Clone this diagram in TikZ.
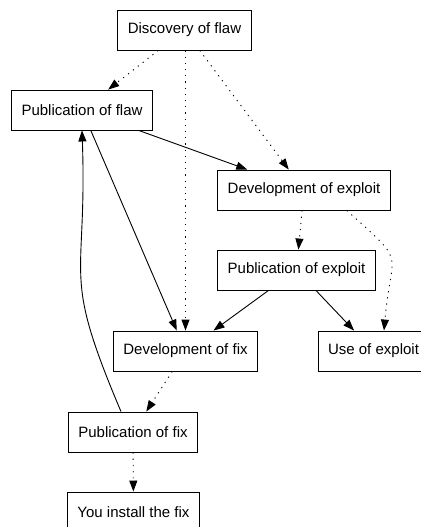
\documentclass[tikz,border=0pt]{standalone}
\usepackage{fontspec}
\setmainfont{Liberation Sans}
\usetikzlibrary{arrows.meta}
\tikzset{stage/.style={draw,line width=0.9pt,inner xsep=10pt,minimum height=40pt,font=\fontsize{15}{18}\selectfont},
  flow/.style={line width=0.9pt,-{Triangle[length=11pt,width=8pt]}},
  hint/.style={flow,dash pattern=on 1.2pt off 5pt}}

\begin{document}
\begin{tikzpicture}[x=1pt,y=1pt]
  \useasboundingbox (0,0) rectangle (420,-527);
  \node[stage] (disc) at (184.5,-30) {Discovery of flaw};
  \node[stage] (pflaw) at (82,-110) {Publication of flaw};
  \node[stage] (devexp) at (304,-190) {Development of exploit};
  \node[stage] (pubexp) at (296.5,-270) {Publication of exploit};
  \node[stage] (devfix) at (185.5,-351) {Development of fix};
  \node[stage] (useexp) at (373.5,-351) {Use of exploit};
  \node[stage] (pubfix) at (133,-432) {Publication of fix};
  \node[stage] (install) at (133.5,-512) {You install the fix};
 \draw [hint] (disc) -- (pflaw);
 \draw [hint] (disc.south -| devfix.north) -- (devfix.north);
 \draw [hint] (disc) -- (devexp);
 \draw [flow] (pflaw) -- (devexp);
 \draw [flow] (pflaw) -- (devfix);
 \draw [flow] ([xshift=-12pt]pubfix.north) to [out=113,in=-88,looseness=1.4] (pflaw.south);
 \draw [hint] (devexp) -- (pubexp);
 \draw [hint] ([xshift=-44pt]devexp.south east) to [out=-42,in=85,looseness=1.7] ([xshift=10.5pt]useexp.north);
 \draw [flow] (pubexp) -- (devfix);
 \draw [flow] (pubexp) -- (useexp);
 \draw [hint] (devfix) -- (pubfix);
 \draw [hint] (pubfix) -- (install);
\end{tikzpicture}
\end{document}
